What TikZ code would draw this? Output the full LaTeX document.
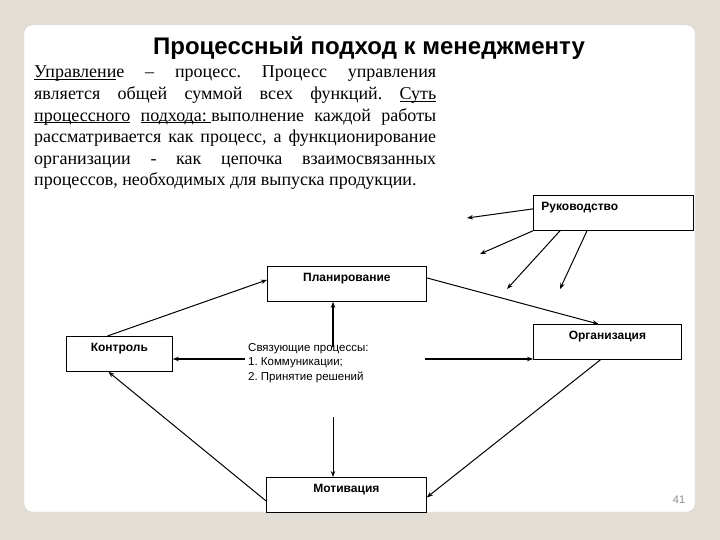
\documentclass[tikz,border=0pt]{standalone}
\usepackage{fontspec}
\setmainfont{Liberation Serif}
\newfontfamily\arialfont{Liberation Sans}
\usetikzlibrary{arrows.meta}
\definecolor{slidebg}{HTML}{E3DED5}
\definecolor{pagegray}{HTML}{8C8C8C}
\newcommand\ulword[1]{\underline{\smash{#1}}}
\frenchspacing

\begin{document}
\begin{tikzpicture}[
  x=1pt, y=-1pt,
  box/.style={rectangle, draw=black, line width=0.8pt, fill=white, anchor=north west,
              font=\arialfont\bfseries\fontsize{12}{14}\selectfont,
              text height=9pt, text depth=14pt, inner ysep=6pt},
  arrow/.style={-{Stealth[length=6pt,width=4.5pt]}, line width=1pt},
  bold arrow/.style={arrow, line width=1.6pt}
]
  % slide
  \useasboundingbox (0,0) rectangle (720,540);
  \fill[slidebg] (0,0) rectangle (720,540);
  \draw[draw=gray!35, fill=white, rounded corners=8pt] (24,25) rectangle (695,512);

  \node[font=\arialfont\bfseries\fontsize{24}{28}\selectfont, anchor=base] (title) at (369,55)
    {Процессный подход к менеджменту};
  \node[anchor=north west, inner sep=0pt, align=left, font=\fontsize{18}{21.6}\selectfont] (intro) at (34,66)
    {\makebox[402pt][s]{\ulword{Управлени}е – процесс. Процесс управления}\\
     \makebox[402pt][s]{является общей суммой всех функций. \ulword{Суть}}\\
     \makebox[402pt][s]{\ulword{процессного} \ulword{подхода:\ }выполнение каждой работы}\\
     \makebox[402pt][s]{рассматривается как процесс, а функционирование}\\
     \makebox[402pt][s]{организации - как цепочка взаимосвязанных}\\
     процессов, необходимых для выпуска продукции.};

  % functions
  \node[box, text width=144pt, inner xsep=8pt, align=left] (ruk)  at (533,195) {Руководство};
  \node[box, minimum width=159pt] (plan) at (267,266) {Планирование};
  \node[box, minimum width=106pt] (kont) at (66,336)  {Контроль};
  \node[box, minimum width=148pt] (org)  at (533,324) {Организация};
  \node[box, minimum width=160pt] (mot)  at (266,477) {Мотивация};

  \node[anchor=north west, inner sep=0pt, align=left, font=\arialfont\fontsize{11.5}{14.5}\selectfont] (links) at (248,343)
    {Связующие процессы:\\1. Коммуникации;\\2. Принятие решений};

  \node[font=\arialfont\fontsize{11}{13}\selectfont, text=pagegray] (page) at (679,500) {41};

  % free ends
  \coordinate (r1) at (467,218);
  \coordinate (r2) at (480,254);
  \coordinate (r3) at (507,289);
  \coordinate (r4) at (560,289);
  \coordinate (lU) at (333,347);
  \coordinate (lL) at (245,359);
  \coordinate (lR) at (425,359);
  \coordinate (lD) at (333,417);

  \draw[arrow] ([yshift=4pt]ruk.west) -- (r1);
  \draw[arrow] (ruk.south west) -- (r2);
  \draw[arrow] ([xshift=27pt]ruk.south west) -- (r3);
  \draw[arrow] ([xshift=54pt]ruk.south west) -- (r4);

  \draw[arrow] ([yshift=6pt]plan.east) -- ([xshift=-9pt]org.north);
  \draw[arrow] ([xshift=-12pt]kont.north) -- ([yshift=4pt]plan.west);
  \draw[arrow] ([xshift=-7pt]org.south) -- ([yshift=-2.5pt]mot.east);
  \draw[arrow] ([yshift=-6pt]mot.west) -- ([xshift=-11pt]kont.south);

  \draw[bold arrow] (lU) -- (lU |- plan.south);
  \draw[bold arrow] (lL) -- (lL -| kont.east);
  \draw[bold arrow] (lR) -- (lR -| org.west);
  \draw[arrow] (lD) -- (lD |- mot.north);
\end{tikzpicture}
\end{document}
